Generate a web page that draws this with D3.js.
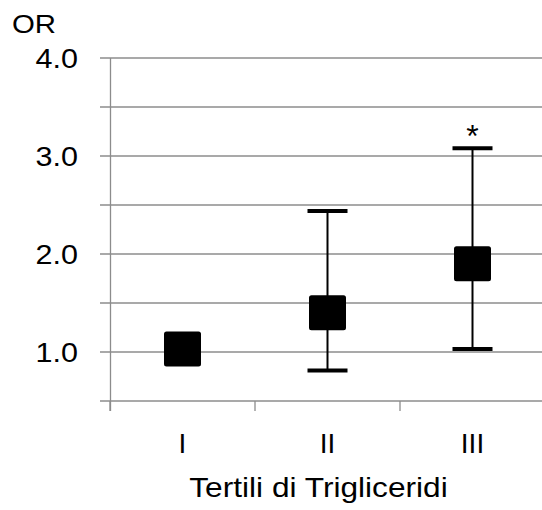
<!DOCTYPE html>
<html><head><meta charset="utf-8">
<script src="https://cdn.jsdelivr.net/npm/d3@7"></script>
<style>body{margin:0;background:#fff}svg{display:block}text{font-family:"Liberation Sans",Arial,sans-serif;fill:#000}</style>
</head><body><div id="chart"></div>
<script>
const categories = ["I", "II", "III"];
const orValues = [1.03, 1.40, 1.90];
const lowerCI = [null, 0.81, 1.03];
const upperCI = [null, 2.44, 3.08];
const significance = ["", "", "*"];
const yTickLabels = [1.0, 2.0, 3.0, 4.0];
const gridValues = [1.0, 1.5, 2.0, 2.5, 3.0, 3.5, 4.0];
const yLabel = "OR";
const xLabel = "Tertili di Trigliceridi";

const W = 542, H = 510;
const svg = d3.select("#chart").append("svg").attr("width", W).attr("height", H);

const x = d3.scaleBand().domain(categories).range([110, 545]);
const y = d3.scaleLinear().domain([0.5, 4.0]).range([401, 58]);

const grid = "#8c8c8c";
svg.selectAll(".grid").data(gridValues).enter().append("line")
  .attr("x1", 100).attr("x2", W).attr("y1", d => y(d)).attr("y2", d => y(d))
  .attr("stroke", grid).attr("stroke-width", 1.3);
svg.append("line").attr("x1", 110.5).attr("x2", 110.5).attr("y1", y(4.0)).attr("y2", 411)
  .attr("stroke", grid).attr("stroke-width", 1.3);
svg.append("line").attr("x1", 100).attr("x2", W).attr("y1", y(0.5)).attr("y2", y(0.5))
  .attr("stroke", grid).attr("stroke-width", 1.3);
const bounds = categories.map(c => x(c)).concat([x(categories[categories.length-1]) + x.bandwidth()]);
svg.selectAll(".xt").data(bounds).enter().append("line")
  .attr("x1", d => d).attr("x2", d => d).attr("y1", y(0.5)).attr("y2", 411)
  .attr("stroke", grid).attr("stroke-width", 1.3);

// horizontal stretch to mimic the reference's wider text
function stretch(sel, k) {
  sel.each(function() {
    const L = this.getComputedTextLength();
    d3.select(this).attr("textLength", L * k).attr("lengthAdjust", "spacingAndGlyphs");
  });
}

svg.selectAll(".yl").data(yTickLabels).enter().append("text")
  .attr("x", 78).attr("y", d => y(d)).attr("dy", "0.36em")
  .attr("text-anchor", "end").attr("font-size", 28)
  .text(d => d.toFixed(1)).call(stretch, 1.09);
svg.append("text").attr("x", 12).attr("y", 33).attr("font-size", 26).text(yLabel).call(stretch, 1.13);

svg.selectAll(".xl").data(categories).enter().append("text")
  .attr("x", d => x(d) + x.bandwidth()/2).attr("y", 453)
  .attr("text-anchor", "middle").attr("font-size", 28).text(d => d);
svg.append("text").attr("x", 318.5).attr("y", 497).attr("text-anchor", "middle")
  .attr("font-size", 28).text(xLabel).call(stretch, 1.13);

const cx = i => x(categories[i]) + x.bandwidth()/2;
categories.forEach((c, i) => {
  if (lowerCI[i] == null) return;
  svg.append("line").attr("x1", cx(i)).attr("x2", cx(i))
    .attr("y1", y(upperCI[i])).attr("y2", y(lowerCI[i]))
    .attr("stroke", "#000").attr("stroke-width", 2);
  [upperCI[i], lowerCI[i]].forEach(v => {
    svg.append("line").attr("x1", cx(i) - 20).attr("x2", cx(i) + 20)
      .attr("y1", y(v)).attr("y2", y(v)).attr("stroke", "#000").attr("stroke-width", 4);
  });
  if (significance[i]) {
    svg.append("text").attr("x", cx(i)).attr("y", y(upperCI[i]) - 1)
      .attr("text-anchor", "middle").attr("font-size", 32).text(significance[i]);
  }
});
const sw = 37, sh = 35;
svg.selectAll(".sq").data(orValues).enter().append("rect")
  .attr("x", (d, i) => cx(i) - sw/2).attr("y", d => y(d) - sh/2)
  .attr("width", sw).attr("height", sh).attr("rx", 2.5).attr("fill", "#000");
</script></body></html>
